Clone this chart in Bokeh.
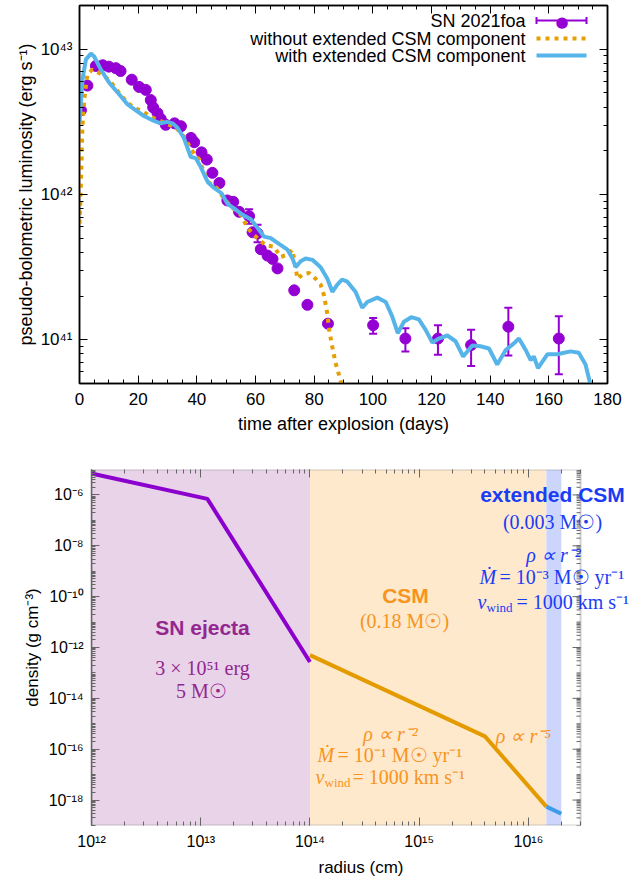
from bokeh.plotting import figure
from bokeh.models import (ColumnDataSource, Whisker, TeeHead, Label, Arrow, LogAxis, LinearAxis,
                          FixedTicker, SingleIntervalTicker, CustomJSTickFormatter, Range1d,
                          BoxAnnotation)
from bokeh.embed import file_html
from bokeh.resources import INLINE

# ---------------- top panel data: SN 2021foa light curve ----------------
obs_t = [0.5, 2.7, 5.6, 7.9, 10.0, 12.4, 14.0, 17.8, 20.3, 22.6, 24.3, 25.1, 26.6, 27.7,
         29.4, 32.4, 34.6, 38.0, 39.1, 41.6, 43.4, 45.3, 47.7, 50.4, 52.4, 54.4, 57.8,
         59.0, 60.7, 61.8, 64.1, 65.8, 67.5, 73.2, 77.7, 84.7, 100.1, 111.1, 122.2,
         133.5, 146.2, 163.4]
obs_L = [3.80e42, 5.62e42, 7.67e42, 7.76e42, 7.59e42, 7.41e42, 7.08e42, 6.17e42, 5.50e42,
         5.25e42, 4.47e42, 3.98e42, 3.63e42, 3.31e42, 3.02e42, 3.09e42, 2.95e42, 2.45e42,
         2.29e42, 1.95e42, 1.74e42, 1.41e42, 1.20e42, 9.1e41, 8.9e41, 7.6e41, 7.1e41,
         5.5e41, 5.4e41, 4.2e41, 3.8e41, 3.6e41, 3.1e41, 2.19e41, 1.74e41, 1.29e41,
         1.26e41, 1.02e41, 1.02e41, 9.2e40, 1.23e41, 1.02e41]
obs_lo = [3.69e42, 5.45e42, 7.44e42, 7.53e42, 7.36e42, 7.19e42, 6.87e42, 5.98e42, 5.34e42,
          5.09e42, 4.34e42, 3.86e42, 3.52e42, 3.21e42, 2.93e42, 3.00e42, 2.86e42, 2.38e42,
          2.22e42, 1.89e42, 1.69e42, 1.37e42, 1.16e42, 8.8e41, 8.6e41, 7.4e41, 6.3e41,
          5.3e41, 4.7e41, 4.1e41, 3.7e41, 3.5e41, 3.0e41, 2.12e41, 1.69e41, 1.25e41,
          1.10e41, 8.3e40, 7.9e40, 6.6e40, 7.8e40, 5.8e40]
obs_hi = [3.91e42, 5.79e42, 7.90e42, 7.99e42, 7.82e42, 7.63e42, 7.29e42, 6.36e42, 5.67e42,
          5.41e42, 4.60e42, 4.10e42, 3.74e42, 3.41e42, 3.11e42, 3.18e42, 3.04e42, 2.52e42,
          2.36e42, 2.01e42, 1.79e42, 1.45e42, 1.24e42, 9.4e41, 9.2e41, 7.8e41, 7.9e41,
          5.7e41, 6.2e41, 4.3e41, 3.9e41, 3.7e41, 3.2e41, 2.26e41, 1.79e41, 1.33e41,
          1.41e41, 1.20e41, 1.26e41, 1.17e41, 1.66e41, 1.45e41]

noext_t = [0, 0.3, 0.5, 0.7, 0.8, 1.0, 1.2, 1.6, 2.7, 4.4, 7.3, 10.1, 13.5, 16.4, 18.6, 21.5,
           25.4, 28.3, 32.9, 36.3, 38.0, 40.8, 43.6, 47.0, 49.3, 52.1, 55.0, 57.3, 59.5,
           63.5, 66.3, 68.6, 70.9, 72.6, 74.3, 76.0, 78.3, 80.5, 82.2, 83.3, 84.5, 85.1,
           86.2, 87.3, 89.0, 90.0]
noext_L = [6.31e41, 9.12e41, 1.23e42, 1.66e42, 2.14e42, 2.88e42, 3.31e42, 4.47e42, 6.76e42,
           7.24e42, 6.76e42, 6.17e42, 5.01e42, 4.27e42, 3.98e42, 3.72e42, 3.35e42, 3.16e42,
           2.88e42, 2.40e42, 2.04e42, 1.74e42, 1.23e42, 1.10e42, 9.33e41, 8.13e41, 7.24e41,
           5.89e41, 5.25e41, 4.47e41, 4.37e41, 3.72e41, 3.85e41, 4.17e41, 2.63e41, 2.82e41,
           2.88e41, 2.63e41, 2.40e41, 2.04e41, 1.51e41, 1.17e41, 8.91e40, 6.92e40, 5.25e40,
           4.17e40]

ext_t = [0, 1.0, 2.2, 3.9, 5.0, 7.3, 10.1, 13.5, 16.4, 19.2, 22.0, 24.9, 27.7, 29.9, 31.7,
         33.4, 35.6, 37.9, 39.6, 41.3, 43.7, 45.9, 48.4, 50.5, 53.0, 55.6, 58.4, 60.7, 62.9,
         65.2, 68.0, 70.9, 72.6, 73.7, 75.4, 77.1, 79.4, 82.2, 84.5, 86.2, 87.9, 89.5, 91.3,
         94.1, 96.4, 98.1, 101.5, 104.4, 106.6, 108.5, 110.6, 113.1, 115.7, 118.0, 120.3,
         122.5, 125.4, 128.2, 130.8, 133.9, 136.7, 139.6, 142.4, 145.3, 148.1, 149.8, 152.1,
         153.8, 154.9, 156.3, 159.5, 162.9, 167.4, 170.2, 172.5, 174.2]
ext_L = [3.16e42, 6.17e42, 8.51e42, 9.33e42, 8.91e42, 7.24e42, 5.89e42, 4.90e42, 4.17e42,
         3.80e42, 3.47e42, 3.24e42, 3.09e42, 3.16e42, 3.09e42, 2.88e42, 2.45e42, 1.82e42,
         1.78e42, 1.55e42, 1.22e42, 1.11e42, 1.02e42, 8.61e41, 7.94e41, 7.24e41, 6.76e41,
         5.89e41, 5.13e41, 5.01e41, 4.57e41, 4.17e41, 3.63e41, 3.16e41, 3.47e41, 3.63e41,
         3.55e41, 3.16e41, 2.63e41, 2.14e41, 2.40e41, 2.60e41, 2.51e41, 2.14e41, 1.66e41,
         1.82e41, 1.95e41, 1.82e41, 1.45e41, 1.11e41, 1.33e41, 1.43e41, 1.38e41, 1.17e41,
         9.55e40, 1.02e41, 1.07e41, 9.77e40, 7.67e40, 9.12e40, 9.02e40, 8.71e40, 6.76e40,
         8.51e40, 9.44e40, 1.02e41, 8.51e40, 7.24e40, 7.67e40, 6.38e40, 7.94e40, 7.94e40,
         8.32e40, 8.13e40, 6.76e40, 4.90e40]

legend_labels = ["SN 2021foa", "without extended CSM component", "with extended CSM component"]

# ---------------- bottom panel data: density structure ----------------
region_left = [1e12, 1e14, 1.46e16]
region_right = [1e14, 1.46e16, 2e16]
region_colors = ["#E8D3E9", "#FEE9CD", "#CCD5FC"]

ejecta_r = [1e12, 1.15e13, 1e14]
ejecta_rho = [7e-6, 7e-7, 2.7e-13]
csm_r = [1e14, 4e15, 1.46e16]
csm_rho = [5e-13, 3.2e-16, 5.5e-19]
extcsm_r = [1.46e16, 2e16]
extcsm_rho = [5.5e-19, 2.9e-19]

X2_MIN, X2_MAX = 1e12, 3e16        # plotted radius range (framed box)
X2_VIEW = 8.6e16                   # visible extent to the canvas edge, for the labels
Y2_MIN, Y2_MAX = 1e-19, 1e-5
x2_major = [1e12, 1e13, 1e14, 1e15, 1e16]
y2_major = [1e-18, 1e-16, 1e-14, 1e-12, 1e-10, 1e-8, 1e-6]

PURPLE = "#9400D3"
ORANGE = "#E69F00"
SKY = "#56B4E9"
SANS = "Liberation Sans"
SERIF = "Liberation Serif"

SUP = """
const s = {"-":"\u207b","0":"\u2070","1":"\u00b9","2":"\u00b2","3":"\u00b3","4":"\u2074",
           "5":"\u2075","6":"\u2076","7":"\u2077","8":"\u2078","9":"\u2079"};
const e = Math.round(Math.log10(tick));
return "10" + String(e).split("").map(c => s[c]).join("");
"""


def sup_fmt():
    return CustomJSTickFormatter(code=SUP)


def blank_fmt():
    return CustomJSTickFormatter(code="return '';")


def style_axis(ax, size, lsize, color="black", lw=1.5):
    ax.major_tick_in = 8
    ax.major_tick_out = 0
    ax.minor_tick_in = 4
    ax.minor_tick_out = 0
    ax.major_tick_line_color = color
    ax.minor_tick_line_color = color
    ax.axis_line_color = color
    ax.axis_line_width = lw
    ax.major_label_text_font = SANS
    ax.major_label_text_font_size = size
    ax.major_label_text_color = "black"
    ax.axis_label_text_font = SANS
    ax.axis_label_text_font_size = lsize
    ax.axis_label_text_font_style = "normal"
    ax.axis_label_text_color = "black"


def mirror(fig, ax, place, color, lw):
    style_axis(ax, "16px", "16px", color, lw)
    ax.formatter = blank_fmt()
    ax.major_label_text_font_size = "0px"
    ax.major_label_standoff = 0
    fig.add_layout(ax, place)


def log_minor(lo, hi, upto=None):
    out = []
    for n in range(lo, hi + 1):
        for k in range(1, 10):
            v = k * 10.0 ** n
            if upto is None or v <= upto * 1.0001:
                out.append(v)
    return out


# ======================= TOP FIGURE =======================
TOP_H = 445
p1 = figure(width=630, height=TOP_H, x_range=Range1d(0, 180), y_range=Range1d(5e40, 2e43),
            y_axis_type="log", output_backend="svg", toolbar_location=None,
            min_border_left=79, min_border_right=23, min_border_top=5, min_border_bottom=62)
p1.xgrid.visible = False
p1.ygrid.visible = False
p1.outline_line_color = "black"
p1.outline_line_width = 1.5

p1.xaxis.ticker = SingleIntervalTicker(interval=20, num_minor_ticks=4)
p1.yaxis.ticker = FixedTicker(ticks=[1e41, 1e42, 1e43], minor_ticks=log_minor(40, 43))
p1.yaxis.formatter = sup_fmt()
for ax in p1.xaxis + p1.yaxis:
    style_axis(ax, "17px", "18px")
p1.xaxis.axis_label = "time after explosion (days)"
p1.yaxis.axis_label = "pseudo-bolometric luminosity (erg s\u207b\u00b9)"
p1.xaxis.major_label_standoff = 9
p1.xaxis.axis_label_standoff = 6
p1.yaxis.major_label_standoff = 7
p1.yaxis.axis_label_standoff = 2

mirror(p1, LinearAxis(ticker=SingleIntervalTicker(interval=20, num_minor_ticks=4)), "above", "black", 1.5)
mirror(p1, LogAxis(ticker=FixedTicker(ticks=[1e41, 1e42, 1e43], minor_ticks=log_minor(40, 43))),
       "right", "black", 1.5)

src = ColumnDataSource(dict(t=obs_t, L=obs_L, lo=obs_lo, hi=obs_hi))
p1.add_layout(Whisker(source=src, base="t", upper="hi", lower="lo", line_color=PURPLE, line_width=2,
                      upper_head=TeeHead(size=8, line_color=PURPLE, line_width=2),
                      lower_head=TeeHead(size=8, line_color=PURPLE, line_width=2)))
p1.scatter("t", "L", source=src, size=11, color=PURPLE, line_color=PURPLE)
p1.line(noext_t, noext_L, line_color=ORANGE, line_width=4, line_dash="4 5")
p1.line(ext_t, ext_L, line_color=SKY, line_width=4)

# legend (right-aligned labels, samples on the right as in the original)
leg_y = [20, 38, 55]
for lbl, yy in zip(legend_labels, leg_y):
    p1.add_layout(Label(x=525, y=yy, x_units="canvas", y_units="canvas", text=lbl,
                        text_font=SANS, text_font_size="18px", text_align="right",
                        text_baseline="middle", text_color="black"))
p1.add_layout(Arrow(x_start=536, y_start=leg_y[0], x_end=586, y_end=leg_y[0],
                    start_units="canvas", end_units="canvas", line_color=PURPLE, line_width=2,
                    start=TeeHead(size=7, line_color=PURPLE, line_width=2),
                    end=TeeHead(size=7, line_color=PURPLE, line_width=2)))
p1.add_layout(Label(x=561.5, y=leg_y[0] + 1, x_units="canvas", y_units="canvas", text="\u25cf",
                    text_font="DejaVu Sans", text_font_size="15px", text_align="center",
                    text_baseline="middle", text_color=PURPLE))
p1.add_layout(Arrow(x_start=536, y_start=leg_y[1], x_end=586, y_end=leg_y[1],
                    start_units="canvas", end_units="canvas", line_color=ORANGE, line_width=4,
                    line_dash="4 5", start=None, end=None))
p1.add_layout(Arrow(x_start=536, y_start=leg_y[2], x_end=586, y_end=leg_y[2],
                    start_units="canvas", end_units="canvas", line_color=SKY, line_width=4,
                    start=None, end=None))

# ======================= BOTTOM FIGURE =======================
GRAY = "#666666"
BOT_H = 881 - TOP_H - 2
p2 = figure(width=630, height=BOT_H, x_axis_type="log", y_axis_type="log",
            x_range=Range1d(X2_MIN, X2_VIEW), y_range=Range1d(Y2_MIN, Y2_MAX),
            output_backend="svg", toolbar_location=None,
            min_border_left=91, min_border_right=0, min_border_top=24, min_border_bottom=53)
p2.xgrid.visible = False
p2.ygrid.visible = False
p2.outline_line_color = None

p2.xaxis.ticker = FixedTicker(ticks=x2_major, minor_ticks=log_minor(12, 16, X2_MAX))
p2.yaxis.ticker = FixedTicker(ticks=y2_major, minor_ticks=log_minor(-19, -6))
p2.xaxis.formatter = sup_fmt()
p2.yaxis.formatter = sup_fmt()
for ax in p2.xaxis + p2.yaxis:
    style_axis(ax, "16px", "17px", GRAY, 1.5)
p2.xaxis.axis_line_color = None
p2.xaxis.axis_label = "radius (cm)"
p2.yaxis.axis_label = "density (g cm\u207b\u00b3)"
p2.xaxis.major_label_standoff = 7
p2.xaxis.axis_label_standoff = 5
p2.yaxis.major_label_standoff = 8
p2.yaxis.axis_label_standoff = 4
top_ax = LogAxis(ticker=FixedTicker(ticks=x2_major, minor_ticks=log_minor(12, 16, X2_MAX)))
mirror(p2, top_ax, "above", GRAY, 1.5)
top_ax.axis_line_color = None

p2.quad(left=region_left, right=region_right, bottom=[Y2_MIN] * 3, top=[Y2_MAX] * 3,
        fill_color=region_colors, line_color=None)
p2.line(ejecta_r, ejecta_rho, line_color="#8B00CC", line_width=4)
p2.line(csm_r, csm_rho, line_color="#E39B00", line_width=4)
p2.line(extcsm_r, extcsm_rho, line_color="#3D9BE9", line_width=4)

# framed box of the plotted range and inward ticks on its right edge
p2.add_layout(BoxAnnotation(left=X2_MIN, right=X2_MAX, bottom=Y2_MIN, top=Y2_MAX,
                            fill_color=None, fill_alpha=0, line_color=GRAY, line_width=2))
PX_PER_DEC = 109.2
maj_f = 10 ** (8 / PX_PER_DEC)
min_f = 10 ** (4 / PX_PER_DEC)
p2.segment(x0=[X2_MAX / maj_f] * len(y2_major), y0=y2_major,
           x1=[X2_MAX] * len(y2_major), y1=y2_major, line_color=GRAY, line_width=1)
y2_minor = log_minor(-19, -6)
p2.segment(x0=[X2_MAX / min_f] * len(y2_minor), y0=y2_minor,
           x1=[X2_MAX] * len(y2_minor), y1=y2_minor, line_color=GRAY, line_width=1)

C_EJ = "#93278F"
C_CSM = "#F7941D"
C_EXT = "#1A3CF5"


def lab(x, y, text, size, color, font=SERIF, style="normal", align="center"):
    p2.add_layout(Label(x=x, y=y, x_units="canvas", y_units="canvas", text=text,
                        text_font=font, text_font_size=f"{size}px", text_font_style=style,
                        text_color=color, text_align=align, text_baseline="middle"))


lab(202, 182, "SN ejecta", 21, C_EJ, SANS, "bold")
lab(202, 222, "3 \u00d7 10\u2075\u00b9 erg", 20, C_EJ)
lab(201, 245, "5 M\u2609", 20, C_EJ)

lab(405, 150, "CSM", 21, C_CSM, SANS, "bold")
lab(404, 175, "(0.18 M\u2609)", 20, C_CSM)
lab(390, 288, "\u03c1 \u221d r\u207b\u00b2", 20, C_CSM, style="italic")
lab(317, 309, "\u1e40", 20, C_CSM, style="italic", align="left")
lab(337, 309, "= 10\u207b\u00b9 M\u2609 yr\u207b\u00b9", 20, C_CSM, align="left")
lab(315, 331, "v", 20, C_CSM, style="italic", align="left")
lab(324, 337, "wind", 13, C_CSM, align="left")
lab(352, 331, "= 1000 km s\u207b\u00b9", 20, C_CSM, align="left")
lab(523, 290, "\u03c1 \u221d r\u207b\u2075", 20, C_CSM, style="italic")

lab(552, 49, "extended CSM", 21, C_EXT, SANS, "bold")
lab(552, 76, "(0.003 M\u2609)", 20, C_EXT)
lab(553, 109, "\u03c1 \u221d r\u207b\u00b2", 20, C_EXT, style="italic")
lab(479, 131, "\u1e40", 20, C_EXT, style="italic", align="left")
lab(499, 131, "= 10\u207b\u00b3 M\u2609 yr\u207b\u00b9", 20, C_EXT, align="left")
lab(477, 156, "v", 20, C_EXT, style="italic", align="left")
lab(486, 162, "wind", 13, C_EXT, align="left")
lab(516, 156, "= 1000 km s\u207b\u00b9", 20, C_EXT, align="left")

# two independent roots so that the two panels keep their own frame borders
open("out.html", "w").write(file_html([p1, p2], INLINE))
